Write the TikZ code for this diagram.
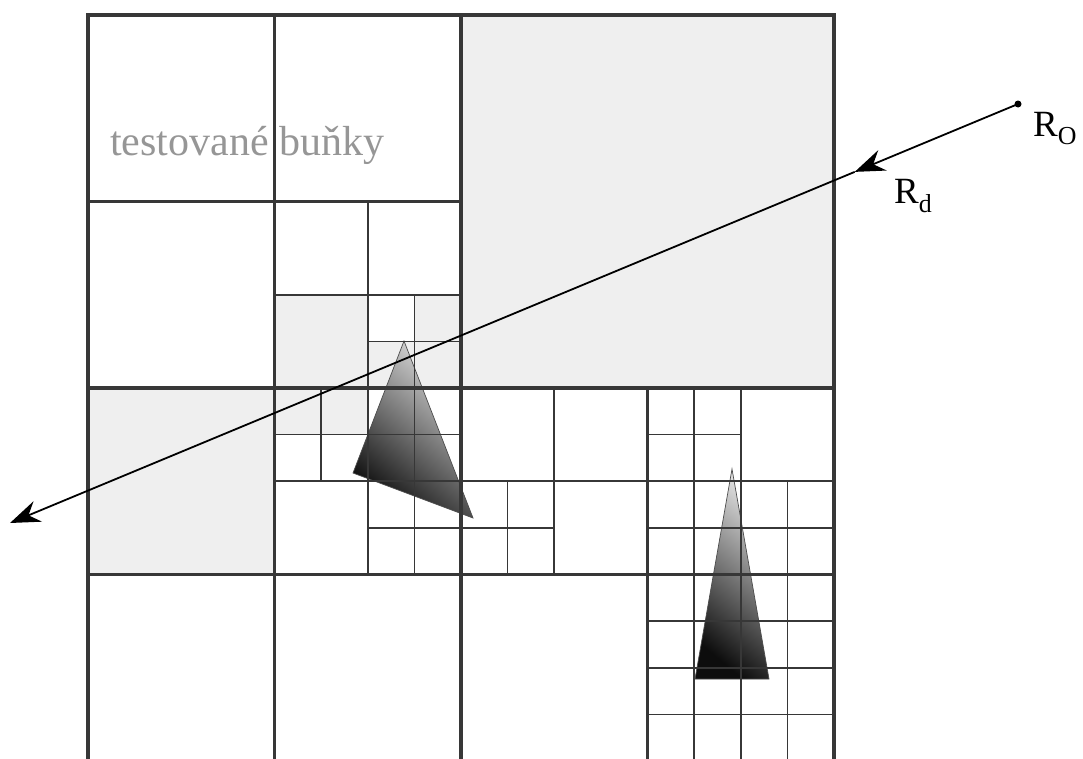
\documentclass[tikz,border=0pt]{standalone}
\usepackage{fontspec}
\setmainfont{Liberation Serif}
\usepackage{tikz}
\usetikzlibrary{arrows.meta, calc}
\definecolor{cellgray}{RGB}{239,239,239}
\definecolor{gridline}{RGB}{55,55,55}
\definecolor{labelgray}{RGB}{150,150,150}

\begin{document}
\begin{tikzpicture}[x=1pt, y=-1pt,
  grid/.style={shift={(88,15)}, x=46.625pt, y=-46.625pt},
  lvlone/.style={gridline, line width=3.2pt},
  lvltwo/.style={gridline, line width=2.6pt},
  lvlthree/.style={gridline, line width=1.9pt},
  lvlfour/.style={gridline, line width=1.3pt},
  tri/.style={draw=black!70, line width=0.7pt, top color=black!12, middle color=black!60, bottom color=black!95, shading angle=-40},
  ray/.style={line width=1.8pt, -{Stealth[length=30pt, width=22pt, inset=10pt]}}]
  \useasboundingbox (0,0) rectangle (1083,758);
  \clip (0,0) rectangle (1083,758);
  % tested cells
  \begin{scope}[grid]
    \fill[cellgray] (8,0) rectangle (16,8) (0,8) rectangle (4,12) (4,6) rectangle (6,8)
      (7,6) rectangle (8,7) (6,7) rectangle (8,8) (4,8) rectangle (6,9);
  \end{scope}
  \shade[tri] (404,341) -- (353,473) -- (473,518) -- cycle;
  \shade[tri] (732,469) -- (695,679) -- (769,679) -- cycle;
  \begin{scope}[grid]
    \foreach \cx/\cy in {6/6, 4/8, 6/8, 6/10, 8/10, 12/8, 12/10, 14/10, 12/12, 14/12, 12/14, 14/14}{
      \draw[lvlfour] (\cx+1,\cy) -- ++(0,2) (\cx,\cy+1) -- ++(2,0);
    }
    \foreach \cx/\cy in {4/4, 4/8, 8/8, 12/8, 12/12}{
      \draw[lvlthree] (\cx+2,\cy) -- ++(0,4) (\cx,\cy+2) -- ++(4,0);
    }
    \foreach \cx/\cy in {0/0, 0/8, 8/8}{
      \draw[lvltwo] (\cx+4,\cy) -- ++(0,8) (\cx,\cy+4) -- ++(8,0);
    }
    \draw[lvlone] (0,0) rectangle (16,16) (8,0) -- (8,16) (0,8) -- (16,8);
  \end{scope}
  \node[anchor=base west, inner sep=0, text=labelgray, font=\fontsize{42}{50}\selectfont] (lbltested) at (110,155) {testované buňky};
  % ray
  \coordinate (RO) at (1018,104);
  \coordinate (Rend) at (10,523);
  \coordinate (Rmid) at ($(RO)!0.162!(Rend)$);
  \draw[ray] (RO) -- (Rmid);
  \draw[ray] (Rmid) -- (Rend);
  \fill (RO) circle (3.5);
  \node[anchor=base west, inner sep=0, font=\fontsize{37}{44}\selectfont] (lblRO) at (1033,136) {R\textsubscript{O}};
  \node[anchor=base west, inner sep=0, font=\fontsize{37}{44}\selectfont] (lblRd) at (894,203) {R\textsubscript{d}};
\end{tikzpicture}
\end{document}
